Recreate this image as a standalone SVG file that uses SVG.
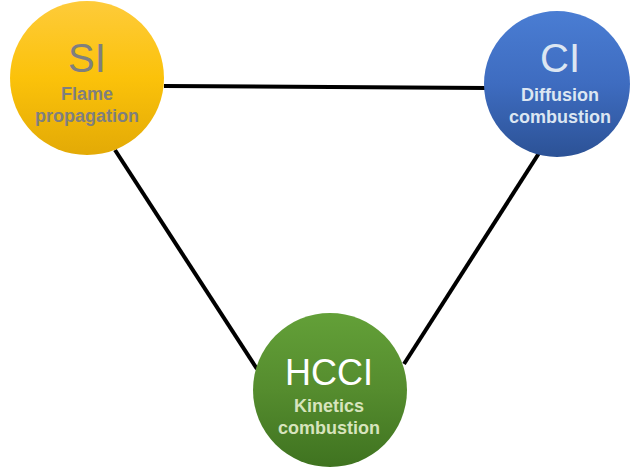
<svg xmlns="http://www.w3.org/2000/svg" width="631" height="472" viewBox="0 0 631 472">
<defs>
<linearGradient id="gY" x1="0" y1="0" x2="0" y2="1"><stop offset="0" stop-color="#fecb3a"/><stop offset="0.5" stop-color="#fbc20a"/><stop offset="1" stop-color="#e3aa06"/></linearGradient>
<linearGradient id="gB" x1="0" y1="0" x2="0" y2="1"><stop offset="0" stop-color="#4a7dd3"/><stop offset="0.5" stop-color="#3e6cc0"/><stop offset="1" stop-color="#2c5296"/></linearGradient>
<linearGradient id="gG" x1="0" y1="0" x2="0" y2="1"><stop offset="0" stop-color="#63a038"/><stop offset="0.5" stop-color="#558c2e"/><stop offset="1" stop-color="#3f7320"/></linearGradient>
</defs>
<style>
.edge{stroke:#000;stroke-width:4;fill:none}
.big{font-family:"Liberation Sans",Arial,sans-serif;font-size:40px;text-anchor:middle}
.sub{font-family:"Liberation Sans",Arial,sans-serif;font-size:18px;font-weight:bold;text-anchor:middle}
</style>
<g id="connectors">
<line class="edge" x1="164" y1="86" x2="486" y2="88"/>
<line class="edge" x1="115" y1="150" x2="257" y2="369"/>
<line class="edge" x1="541" y1="150" x2="404" y2="364"/>
</g>
<g id="SI">
<circle cx="87" cy="78" r="77" fill="url(#gY)"/>
<text class="big" x="87" y="72" fill="#7f7f7f">SI</text>
<text class="sub" x="87" y="100" fill="#7f7f7f">Flame</text>
<text class="sub" x="87" y="122" fill="#7f7f7f">propagation</text>
</g>
<g id="CI">
<circle cx="557" cy="84" r="73" fill="url(#gB)"/>
<text class="big" x="560" y="72" fill="#dce6f2">CI</text>
<text class="sub" x="560" y="101" fill="#dce6f2">Diffusion</text>
<text class="sub" x="560" y="123" fill="#dce6f2">combustion</text>
</g>
<g id="HCCI">
<circle cx="330" cy="390" r="77" fill="url(#gG)"/>
<text class="big" x="329" y="385" fill="#ffffff" style="font-size:36px">HCCI</text>
<text class="sub" x="329" y="412" fill="#d7e4bd">Kinetics</text>
<text class="sub" x="329" y="434" fill="#d7e4bd">combustion</text>
</g>
</svg>
